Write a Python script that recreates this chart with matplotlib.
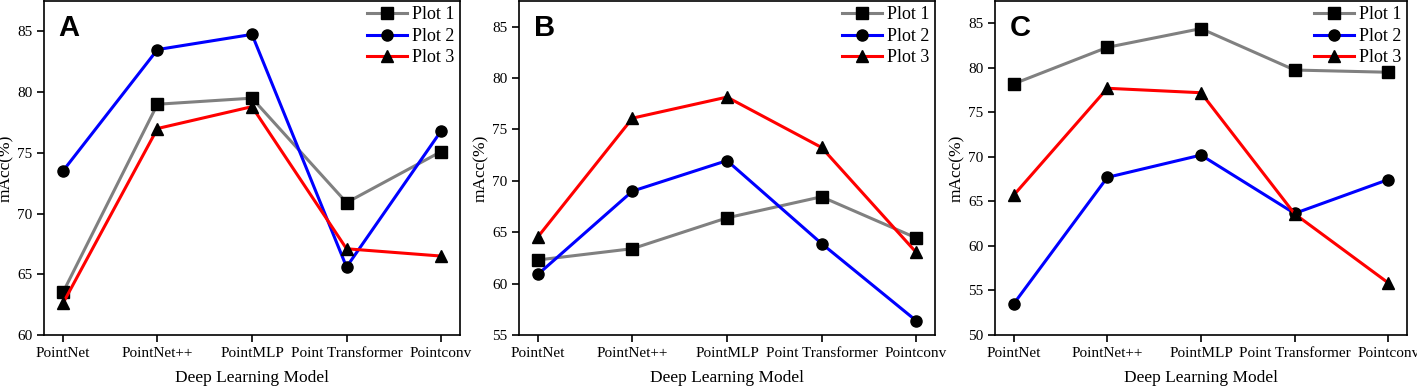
import matplotlib
matplotlib.use("Agg")
import matplotlib.pyplot as plt

models = ["PointNet", "PointNet++", "PointMLP", "Point Transformer", "Pointconv"]
series_names = ["Plot 1", "Plot 2", "Plot 3"]

# panel A
a_plot1 = [63.5, 79.0, 79.5, 70.9, 75.1]
a_plot2 = [73.5, 83.5, 84.75, 65.6, 76.8]
a_plot3 = [62.6, 77.0, 78.8, 67.1, 66.5]

# panel B
b_plot1 = [62.3, 63.4, 66.4, 68.45, 64.45]
b_plot2 = [60.9, 69.0, 71.97, 63.9, 56.4]
b_plot3 = [64.55, 76.1, 78.15, 73.25, 63.05]

# panel C
c_plot1 = [78.2, 82.3, 84.4, 79.75, 79.5]
c_plot2 = [53.5, 67.7, 70.2, 63.65, 67.45]
c_plot3 = [65.7, 77.7, 77.2, 63.6, 55.85]

panels = [
    ("A", [a_plot1, a_plot2, a_plot3], 60, [60, 65, 70, 75, 80, 85]),
    ("B", [b_plot1, b_plot2, b_plot3], 55, [55, 60, 65, 70, 75, 80, 85]),
    ("C", [c_plot1, c_plot2, c_plot3], 50, [50, 55, 60, 65, 70, 75, 80, 85]),
]

colors = ["#808080", "#0000ff", "#ff0000"]
markers = ["s", "o", "^"]

W, H = 1417, 389
boxes = [(44, 416), (519, 416), (995, 412)]

plt.rcParams["font.family"] = ["Liberation Serif", "DejaVu Serif"]
fig = plt.figure(figsize=(W / 100, H / 100), dpi=100)

for (letter, data, ymin, yticks), (left, width) in zip(panels, boxes):
    ax = fig.add_axes([left / W, 54 / H, width / W, 334 / H])
    x = range(len(models))
    for vals, name, c, m in zip(data, series_names, colors, markers):
        ax.plot(x, vals, color=c, lw=2.2, marker=m, markersize=8,
                markerfacecolor="black", markeredgecolor="black", label=name)
    ax.set_xlim(-0.2, 4.2)
    ax.set_ylim(ymin, 87.5)
    ax.set_yticks(yticks)
    ax.set_xticks(list(x))
    ax.set_xticklabels(models)
    ax.tick_params(labelsize=11, direction="out", length=5, width=1.2)
    for s in ax.spines.values():
        s.set_linewidth(1.2)
    ax.set_ylabel("mAcc(%)", fontsize=12.5, labelpad=2)
    ax.set_xlabel("Deep Learning Model", fontsize=12.5, labelpad=7)
    ax.text(0.035, 0.96, letter, transform=ax.transAxes, fontsize=21,
            fontweight="bold", family="Liberation Sans", va="top", ha="left")
    ax.legend(loc="upper right", frameon=False, fontsize=13, handlelength=2.2,
              handletextpad=0.3, labelspacing=0.25, borderaxespad=0.1,
              borderpad=0.2)

fig.savefig("out.png", dpi=100)
